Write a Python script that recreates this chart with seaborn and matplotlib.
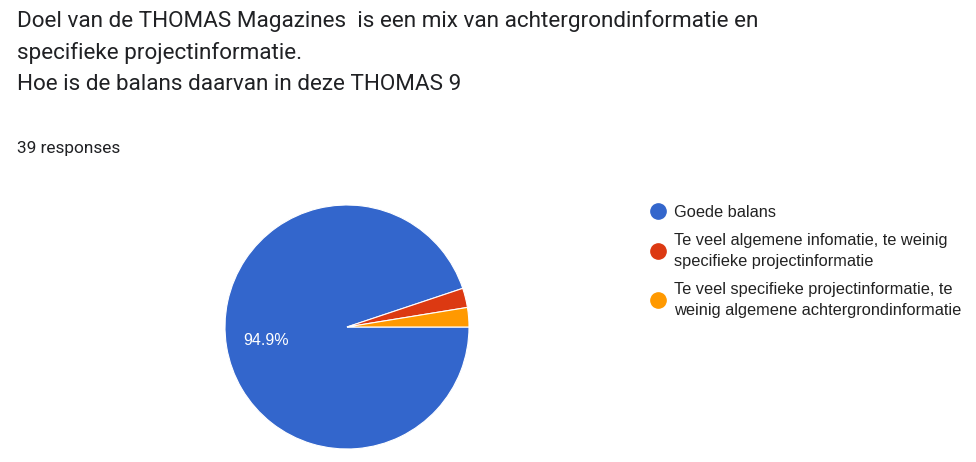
import matplotlib
matplotlib.use("Agg")
import matplotlib.pyplot as plt
from matplotlib.lines import Line2D
import seaborn as sns

categories = [
    "Goede balans",
    "Te veel algemene infomatie, te weinig\nspecifieke projectinformatie",
    "Te veel specifieke projectinformatie, te\nweinig algemene achtergrondinformatie",
]
counts = [37, 1, 1]
colors = ["#3366CC", "#DC3912", "#FF9900"]
title_lines = [
    "Doel van de THOMAS Magazines  is een mix van achtergrondinformatie en",
    "specifieke projectinformatie.",
    "Hoe is de balans daarvan in deze THOMAS 9",
]
responses_text = "39 responses"

sns.set_theme(style="white")
plt.rcParams["font.family"] = ["Roboto", "DejaVu Sans"]

W, H = 976, 462
fig = plt.figure(figsize=(W / 100, H / 100), dpi=100)
fig.patch.set_facecolor("white")

# Title
fig.text(17 / W, 1 - 10 / H, "\n".join(title_lines), ha="left", va="top",
         fontsize=16.2, color="#202124", linespacing=1.6)
fig.text(17 / W, 1 - 148 / H, responses_text, ha="left", va="center",
         fontsize=12.4, color="#202124")

# Pie
cx, cy, r = 347, 327, 122
ax = fig.add_axes([(cx - r) / W, (H - cy - r) / H, 2 * r / W, 2 * r / H])


def pct(p):
    return f"{p:.1f}%" if p > 5 else ""


wedges, texts, autotexts = ax.pie(
    counts, colors=colors, startangle=0, counterclock=False,
    autopct=pct, pctdistance=0.67,
    wedgeprops=dict(edgecolor="white", linewidth=0.8),
    textprops=dict(color="white", fontsize=11.5, family=["Liberation Sans", "DejaVu Sans"]),
)
ax.set_xlim(-1, 1)
ax.set_ylim(-1, 1)
ax.set_aspect("equal")
ax.axis("off")

# Legend
handles = [Line2D([0], [0], marker="o", linestyle="", markersize=11,
                  markerfacecolor=c, markeredgecolor=c) for c in colors]
leg = fig.legend(handles, categories, loc="upper left",
                 bbox_to_anchor=(649 / W, 1 - 205 / H), frameon=False,
                 prop=dict(family=["Liberation Sans", "DejaVu Sans"], size=11.8),
                 handletextpad=0.45, labelspacing=0.8,
                 handlelength=1.05, borderpad=0, borderaxespad=0)
for t in leg.get_texts():
    t.set_color("#222222")
    t.set_linespacing(1.47)

fig.savefig("out.png", dpi=100, facecolor="white")
